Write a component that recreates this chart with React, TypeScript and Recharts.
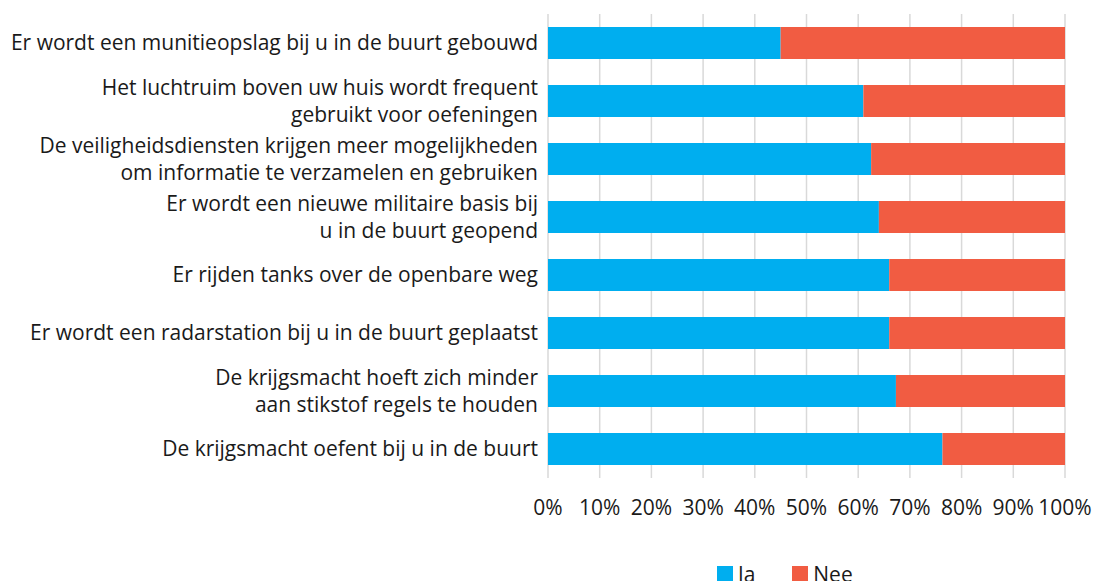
import React from 'react';
import { BarChart, Bar, XAxis, YAxis, CartesianGrid } from 'recharts';

// Stellingen (y-as), van boven naar beneden
const statements = [
  'Er wordt een munitieopslag bij u in de buurt gebouwd',
  'Het luchtruim boven uw huis wordt frequent\ngebruikt voor oefeningen',
  'De veiligheidsdiensten krijgen meer mogelijkheden\nom informatie te verzamelen en gebruiken',
  'Er wordt een nieuwe militaire basis bij\nu in de buurt geopend',
  'Er rijden tanks over de openbare weg',
  'Er wordt een radarstation bij u in de buurt geplaatst',
  'De krijgsmacht hoeft zich minder\naan stikstof regels te houden',
  'De krijgsmacht oefent bij u in de buurt',
];

const ja = [45, 61, 62.5, 64, 66, 66, 67.3, 76.3];
const nee = [55, 39, 37.5, 36, 34, 34, 32.7, 23.7];

const xTicks = [0, 10, 20, 30, 40, 50, 60, 70, 80, 90, 100];

const seriesNames = ['Ja', 'Nee'];

const data = statements.map((name, i) => ({ name, ja: ja[i], nee: nee[i] }));

const FONT = '"Open Sans", "Noto Sans", sans-serif';
const FS = 21;
const BLUE = '#00AEEF';
const RED = '#F15C42';
const colors = [BLUE, RED];

const YTick = (props: any) => {
  const { x, y, payload } = props;
  const lines: string[] = String(payload.value).split('\n');
  const lh = 27;
  const start = -((lines.length - 1) * lh) / 2;
  return (
    <text x={x} y={y} textAnchor="end" fill="#1a1a1a" fontSize={FS} fontFamily={FONT}>
      {lines.map((l, i) => (
        <tspan key={i} x={x} y={y + start + i * lh} dy="0.35em">
          {l}
        </tspan>
      ))}
    </text>
  );
};

export default function App() {
  return (
    <div style={{ position: 'absolute', left: 0, top: 0, width: 1104, height: 581, background: '#fff', overflow: 'hidden' }}>
      <BarChart
        width={1104}
        height={581}
        data={data}
        layout="vertical"
        margin={{ top: 14, right: 39, bottom: 0, left: 0 }}
        barCategoryGap={13}
      >
        <CartesianGrid horizontal={false} stroke="#d9d9d9" strokeWidth={1.5} />
        <XAxis
          type="number"
          domain={[0, 100]}
          ticks={xTicks}
          tickFormatter={(v: number) => `${v}%`}
          axisLine={false}
          tickLine={false}
          tickSize={0}
          tickMargin={22}
          height={103}
          interval={0}
          tick={{ fill: '#1a1a1a', fontSize: FS, fontFamily: FONT }}
        />
        <YAxis
          type="category"
          dataKey="name"
          width={548}
          axisLine={false}
          tickLine={false}
          tickSize={0}
          tickMargin={10}
          interval={0}
          tick={<YTick />}
        />
        <Bar dataKey="ja" stackId="a" fill={BLUE} isAnimationActive={false} />
        <Bar dataKey="nee" stackId="a" fill={RED} isAnimationActive={false} />
      </BarChart>
      <div
        style={{
          position: 'absolute',
          left: 717,
          top: 562,
          display: 'flex',
          fontFamily: FONT,
          fontSize: FS,
          color: '#1a1a1a',
          lineHeight: '24px',
        }}
      >
        {seriesNames.map((n, i) => (
          <div key={n} style={{ display: 'flex', alignItems: 'center', marginRight: i === 0 ? 37 : 0 }}>
            <span style={{ width: 16, height: 16, background: colors[i], display: 'inline-block', marginRight: 5 }} />
            {n}
          </div>
        ))}
      </div>
    </div>
  );
}
